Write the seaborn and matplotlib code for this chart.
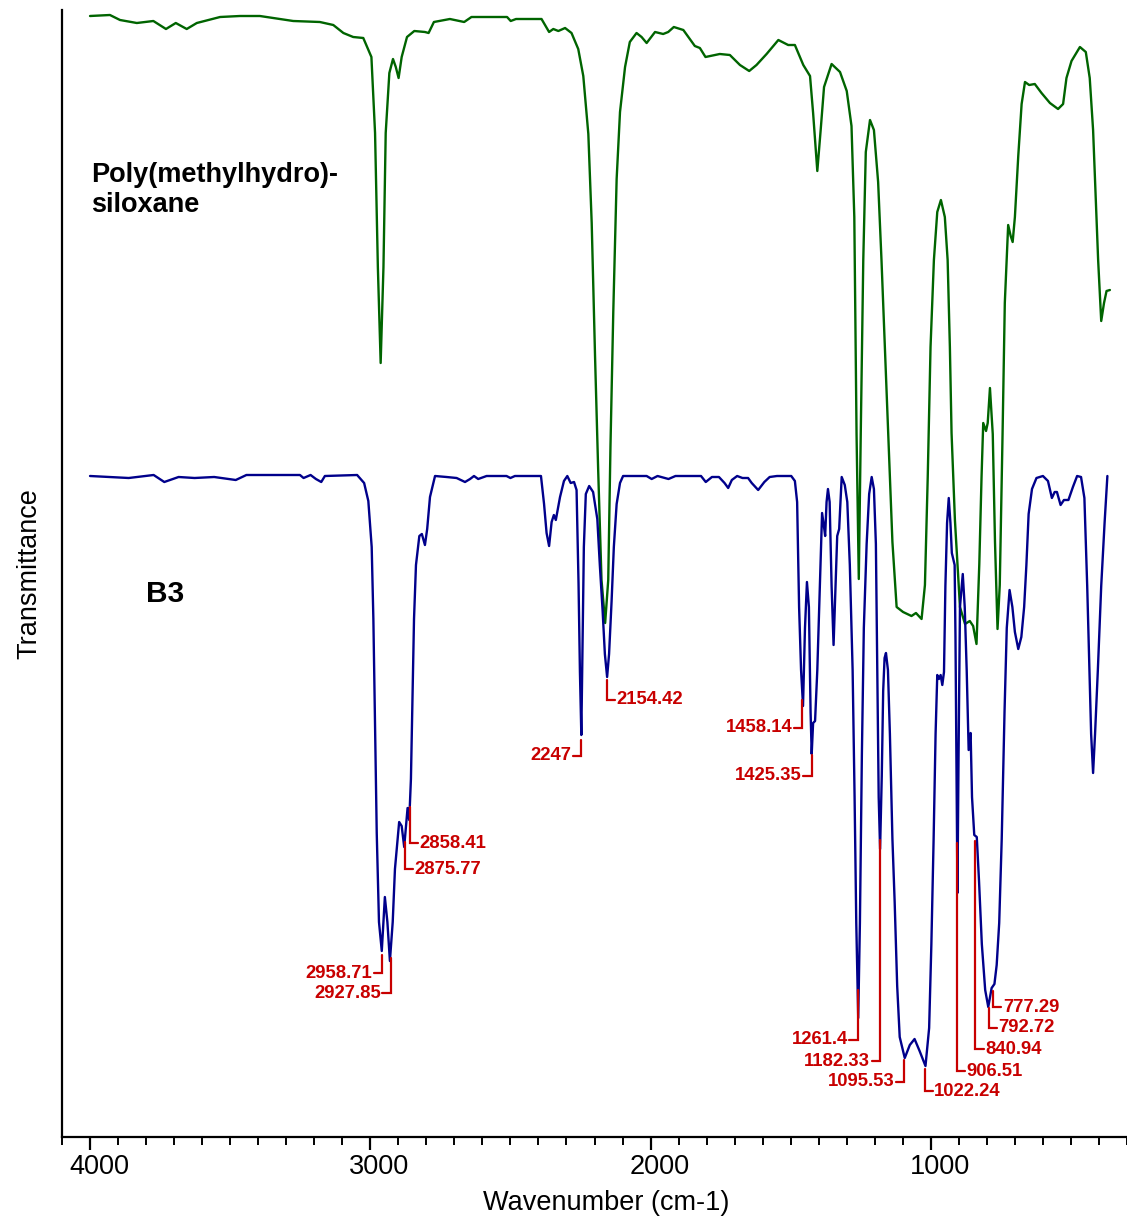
import numpy as np
import pandas as pd
import matplotlib
matplotlib.use("Agg")
import matplotlib.pyplot as plt
import matplotlib.transforms as mtransforms
from matplotlib.ticker import MultipleLocator
import seaborn as sns

# FTIR spectra (wavenumber in cm-1, transmittance in arbitrary offset units)
pmhs_wn = [4000, 3929, 3893, 3833, 3774, 3729, 3694, 3655, 3619, 3536, 3465, 3394, 3275, 3180,
           3132, 3096, 3061, 3025, 2996, 2983, 2973, 2963, 2953, 2945, 2932, 2919, 2909, 2899,
           2888, 2869, 2843, 2805, 2792, 2773, 2716, 2665, 2639, 2512, 2499, 2480, 2389, 2362,
           2347, 2329, 2305, 2282, 2258, 2240, 2222, 2210, 2198, 2187, 2175, 2162, 2151, 2143,
           2133, 2121, 2109, 2091, 2074, 2050, 2032, 2014, 1984, 1955, 1937, 1917, 1883, 1860,
           1842, 1824, 1804, 1753, 1717, 1681, 1648, 1622, 1586, 1544, 1509, 1485, 1455, 1431,
           1420, 1405, 1393, 1381, 1354, 1324, 1300, 1283, 1273, 1265, 1257, 1250, 1241, 1232,
           1217, 1203, 1188, 1176, 1164, 1152, 1137, 1122, 1099, 1069, 1053, 1033, 1021, 1011,
           1001, 989, 977, 964, 950, 940, 932, 926, 914, 896, 878, 861, 849, 837, 827, 819, 813,
           803, 797, 789, 779, 771, 762, 754, 744, 736, 724, 715, 708, 700, 688, 676, 664, 649,
           629, 605, 575, 546, 528, 516, 498, 468, 447, 433, 421, 411, 403, 392, 382, 373, 361]
pmhs_t = [112.1, 112.2, 111.7, 111.4, 111.6, 110.8, 111.4, 110.8, 111.4, 112.0, 112.1, 112.1, 111.6, 111.5,
          111.2, 110.4, 110.0, 109.9, 108.0, 100.4, 87.0, 77.4, 87.0, 100.4, 106.4, 107.8, 107.0, 105.9,
          108.0, 110.0, 110.6, 110.5, 110.4, 111.5, 111.8, 111.5, 112.0, 112.0, 111.6, 111.8, 111.8, 110.5,
          110.8, 110.6, 110.9, 110.4, 108.8, 106.1, 100.3, 91.4, 78.0, 66.8, 55.7, 51.4, 55.7, 69.1,
          82.5, 95.8, 102.5, 107.0, 109.5, 110.4, 110.0, 109.4, 110.5, 110.3, 110.5, 111.0, 110.7, 109.8,
          109.1, 108.9, 108.0, 108.3, 108.2, 107.2, 106.6, 107.2, 108.3, 109.7, 109.2, 109.2, 107.2, 106.1,
          102.4, 96.6, 100.7, 105.0, 107.3, 106.5, 104.6, 101.1, 92.0, 70.3, 55.8, 70.3, 87.7, 98.5,
          101.7, 100.7, 95.5, 87.7, 79.0, 70.4, 59.5, 53.0, 52.5, 52.1, 52.4, 51.8, 55.2, 66.0,
          79.0, 87.7, 92.5, 93.7, 92.0, 87.7, 79.0, 70.4, 61.7, 53.0, 51.3, 51.6, 51.1, 49.3, 57.3, 66.0, 71.4,
          70.6, 71.4, 74.9, 70.3, 59.5, 50.8, 55.2, 70.3, 83.4, 91.2, 90.1, 89.5, 92.0, 98.1, 103.3, 105.5, 105.2,
          105.3, 104.4, 103.4, 102.8, 103.3, 105.9, 107.6, 109.0, 108.5, 105.9, 100.7, 93.5, 87.7, 81.6, 83.4, 84.6, 84.7]

b3_wn = [4000, 3930, 3862, 3773, 3735, 3684, 3627, 3557, 3480, 3442, 3251, 3238, 3213, 3194, 3175,
         3162, 3047, 3022, 3007, 2995, 2989, 2983, 2977, 2969, 2959, 2948, 2939, 2930, 2920, 2912,
         2897, 2888, 2879, 2867, 2861, 2855, 2849, 2844, 2837, 2825, 2816, 2805, 2797, 2787, 2769,
         2728, 2692, 2662, 2644, 2630, 2615, 2585, 2514, 2500, 2484, 2391, 2380, 2371, 2362, 2353,
         2345, 2338, 2323, 2309, 2297, 2285, 2273, 2264, 2257, 2252, 2247, 2243, 2238, 2231, 2219,
         2205, 2190, 2181, 2171, 2163, 2155, 2148, 2139, 2131, 2121, 2109, 2098, 2014, 1996, 1975,
         1936, 1911, 1820, 1803, 1781, 1756, 1736, 1723, 1710, 1691, 1672, 1652, 1639, 1616, 1594,
         1575, 1549, 1523, 1498, 1485, 1477, 1470, 1463, 1456, 1449, 1442, 1435, 1429, 1425, 1420,
         1413, 1405, 1396, 1388, 1381, 1377, 1372, 1367, 1361, 1354, 1347, 1340, 1334, 1327, 1318,
         1307, 1298, 1289, 1279, 1272, 1266, 1259, 1253, 1246, 1239, 1229, 1220, 1211, 1203, 1196,
         1191, 1186, 1181, 1175, 1170, 1165, 1160, 1153, 1146, 1137, 1129, 1120, 1111, 1093, 1075,
         1058, 1040, 1019, 1006, 998, 990, 983, 977, 971, 965, 959, 953, 948, 942, 936, 930, 925,
         915, 912, 905, 901, 896, 886, 879, 872, 865, 858, 853, 845, 836, 828, 818, 806, 795, 783,
         773, 765, 756, 747, 737, 729, 719, 709, 700, 688, 677, 667, 659, 651, 639, 623, 600, 582,
         568, 558, 550, 537, 525, 509, 493, 478, 464, 452, 442, 434, 428, 421, 414, 404, 392, 380, 370]
b3_t = [66.1, 66.0, 65.9, 66.2, 65.5, 66.0, 65.9, 66.0, 65.7, 66.2, 66.2, 65.9, 66.2, 65.8, 65.5,
        66.1, 66.2, 65.4, 63.6, 59.0, 51.8, 41.1, 30.4, 21.5, 18.6, 24.0, 21.5, 17.6, 21.5, 26.8,
        31.5, 31.1, 29.0, 32.9, 31.7, 35.8, 44.7, 51.8, 57.2, 60.1, 60.3, 59.2, 60.8, 64.0, 66.1,
        66.0, 65.9, 65.5, 65.8, 66.1, 65.8, 66.1, 66.1, 65.9, 66.1, 66.1, 63.3, 60.4, 59.1, 61.5,
        62.2, 61.7, 64.0, 65.6, 66.1, 65.4, 65.5, 64.7, 55.4, 46.5, 40.2, 48.3, 59.0, 64.3, 65.1,
        64.5, 61.8, 57.2, 52.6, 48.3, 46.0, 48.3, 53.6, 59.0, 63.3, 65.4, 66.1, 66.1, 65.8, 66.1,
        65.8, 66.1, 66.1, 65.5, 66.0, 66.0, 65.4, 64.9, 65.7, 66.1, 65.9, 65.9, 65.4, 64.7, 65.5,
        66.0, 66.1, 66.1, 66.1, 65.6, 63.5, 53.0, 46.7, 43.1, 50.9, 55.5, 53.0, 42.5, 38.3, 41.4,
        41.6, 46.7, 55.1, 62.4, 61.0, 60.1, 63.5, 64.8, 63.5, 55.1, 49.2, 55.1, 60.1, 60.8, 66.0,
        65.2, 63.5, 57.2, 46.7, 34.0, 21.4, 11.9, 21.4, 38.2, 50.9, 59.3, 64.3, 66.0, 64.8, 59.3,
        46.7, 34.0, 28.8, 36.1, 44.6, 47.9, 48.4, 46.7, 40.3, 29.8, 23.5, 15.1, 10.0, 7.9, 9.2,
        9.8, 8.6, 7.1, 10.9, 19.3, 29.8, 40.3, 46.2, 45.8, 46.2, 45.2, 46.5, 55.1, 61.4, 63.9, 61.4, 58.4,
        57.2, 50.0, 24.4, 38.2, 53.0, 56.3, 53.0, 46.7, 38.7, 40.4, 34.0, 30.2, 30.0, 25.6, 19.3, 14.7, 13.0, 14.9,
        15.3, 17.2, 21.4, 29.8, 42.5, 50.9, 54.7, 53.0, 50.5, 48.8, 50.0, 53.0, 57.2, 62.3, 64.8, 65.9, 66.1, 65.6,
        63.9, 64.5, 64.5, 63.2, 63.7, 63.7, 65.0, 66.1, 66.0, 63.9, 55.1, 46.7, 40.3, 36.4, 40.3, 46.7, 55.1, 61.4, 66.1]

# peak labels on B3: wavenumber, text level, side of the text
peak_labels = ['2958.71', '2927.85', '2875.77', '2858.41', '2247', '2154.42', '1458.14', '1425.35',
               '1261.4', '1182.33', '1095.53', '1022.24', '906.51', '840.94', '792.72', '777.29']
peak_levels = [16.4, 14.4, 26.8, 29.4, 38.1, 43.7, 40.9, 36.1, 9.7, 7.6, 5.5, 4.6, 6.6, 8.8, 10.9, 13.0]
peak_sides = ['left', 'left', 'right', 'right', 'left', 'right', 'left', 'left',
              'left', 'left', 'left', 'right', 'right', 'right', 'right', 'right']

sample_names = ['Poly(methylhydro)-siloxane', 'B3']
line_colors = ['#006400', '#00008B']

df = pd.concat([
    pd.DataFrame({'wavenumber': pmhs_wn, 'T': pmhs_t, 'sample': sample_names[0]}),
    pd.DataFrame({'wavenumber': b3_wn, 'T': b3_t, 'sample': sample_names[1]}),
])

sns.set_style("ticks")
plt.rcParams['font.family'] = ['Liberation Sans', 'DejaVu Sans']
plt.rcParams['text.color'] = 'black'
plt.rcParams['axes.labelcolor'] = 'black'
plt.rcParams['xtick.color'] = 'black'
plt.rcParams['axes.edgecolor'] = 'black'

fig = plt.figure(figsize=(11.27, 12.24), dpi=100)
ax = fig.add_axes([62 / 1127, 87 / 1224, 1065 / 1127, 1127 / 1224])

sns.lineplot(data=df, x='wavenumber', y='T', hue='sample', palette=line_colors,
             estimator=None, sort=False, legend=False, linewidth=1.7, ax=ax)
for ln in ax.get_lines():
    ln.set_solid_joinstyle('round')

# red peak brackets
red = '#C80000'
b3_asc_wn = np.array(b3_wn[::-1], dtype=float)
b3_asc_t = np.array(b3_t[::-1], dtype=float)
for lab, lvl, side in zip(peak_labels, peak_levels, peak_sides):
    w = float(lab)
    top = np.interp(w, b3_asc_wn, b3_asc_t) - 0.5
    sgn = -1 if side == 'right' else 1
    ax.plot([w, w, w + sgn * 29], [top, lvl, lvl], color=red, lw=1.6, solid_joinstyle='miter')
    ax.text(w + sgn * 34, lvl, lab, color=red, fontsize=13.3, fontweight='bold',
            ha='left' if side == 'right' else 'right', va='center')

ax.text(3997, 97.5, 'Poly(methylhydro)-\nsiloxane', fontsize=19.5, fontweight='bold',
        ha='left', va='top', linespacing=1.2, color='black')
ax.text(3800, 54.3, 'B3', fontsize=21.5, fontweight='bold', ha='left', va='center', color='black')

ax.set_xlim(4100, 300)
ax.set_ylim(0, 112.7)
ax.xaxis.set_major_locator(MultipleLocator(1000))
ax.xaxis.set_minor_locator(MultipleLocator(100))
ax.set_yticks([])
ax.tick_params(axis='x', which='major', length=9, width=1.6, labelsize=19.5, pad=3,
               colors='black')
ax.tick_params(axis='x', which='minor', length=6, width=1.4, colors='black')
ax.set_xlabel('Wavenumber (cm-1)', fontsize=19.5, color='black')
ax.set_ylabel('Transmittance', fontsize=19.5, labelpad=14, color='black')
ax.xaxis.set_label_coords((606 - 62) / 1065, -0.047)
sns.despine(ax=ax)
for s in ['left', 'bottom']:
    ax.spines[s].set_linewidth(1.6)
    ax.spines[s].set_color('black')

# tick labels sit a little right of their ticks in the reference
shift = mtransforms.ScaledTranslation(9 / 100, 0, fig.dpi_scale_trans)
for lbl in ax.get_xticklabels():
    lbl.set_transform(lbl.get_transform() + shift)

fig.savefig('out.png', dpi=100)
